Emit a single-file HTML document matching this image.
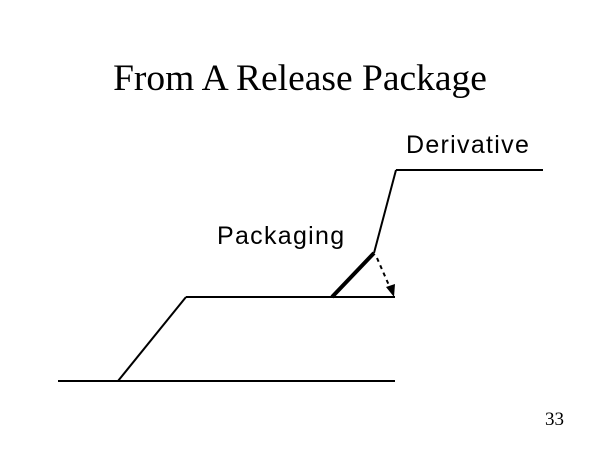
<!DOCTYPE html>
<html><head><style>
body{margin:0;background:#fff;width:600px;height:450px;overflow:hidden;position:relative}
.t{position:absolute;font-family:"Liberation Serif",serif;color:#000}
.s{position:absolute;font-family:"Liberation Sans",sans-serif;color:#000;font-size:25px;letter-spacing:1.3px}
</style></head><body>
<div class="t" style="left:0;width:600px;text-align:center;top:57px;font-size:37.5px">From A Release Package</div>
<div class="s" style="left:406px;top:131px">Derivative</div>
<div class="s" style="left:217px;top:222px">Packaging</div>
<div class="t" style="left:545px;top:409px;font-size:19px">33</div>
<svg width="600" height="450" style="position:absolute;left:0;top:0">
<g stroke="#000" fill="none" stroke-width="2">
<line x1="58" y1="381" x2="395" y2="381"/>
<line x1="118" y1="381" x2="186" y2="297"/>
<line x1="186" y1="297" x2="395" y2="297"/>
<line x1="374" y1="253" x2="396" y2="170"/>
<line x1="396" y1="170" x2="543" y2="170"/>
<line x1="332" y1="297" x2="374" y2="253" stroke-width="4"/>
<line x1="377" y1="258" x2="391" y2="290" stroke-dasharray="4,4"/>
</g>
<polygon points="394,297 386,287 395,284" fill="#000"/>
</svg>
</body></html>
